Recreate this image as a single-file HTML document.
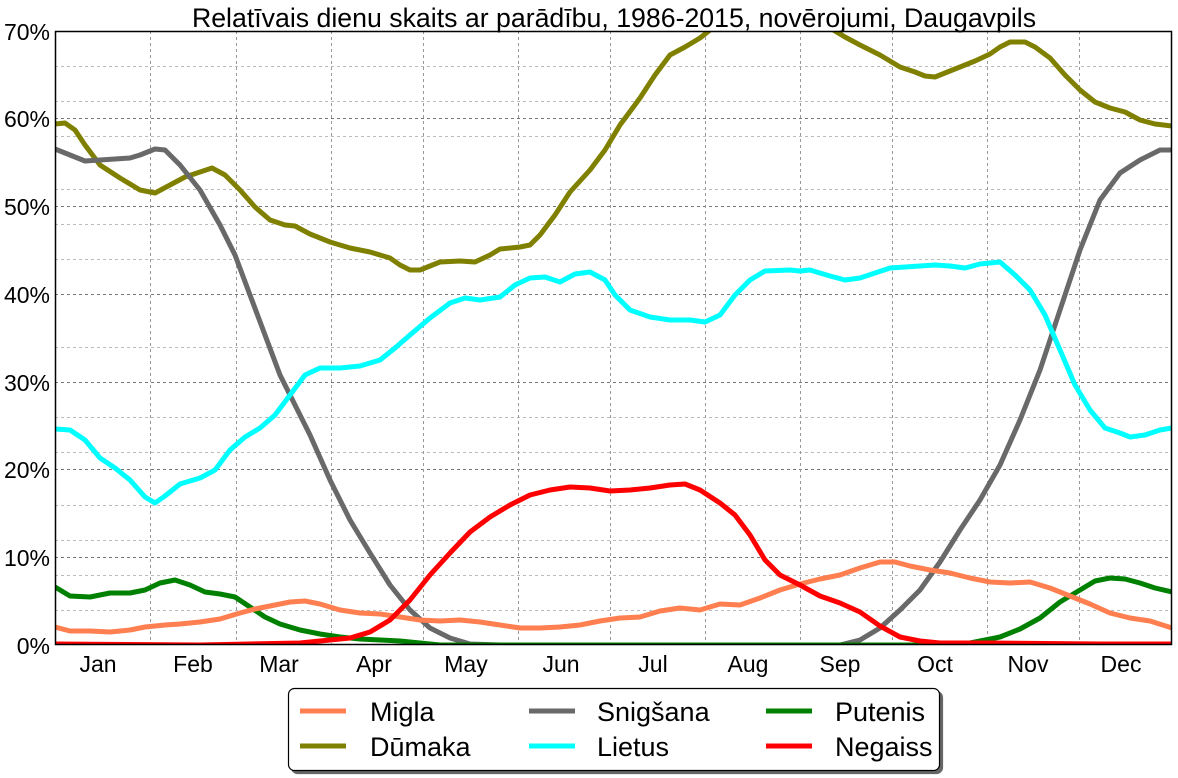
<!DOCTYPE html>
<html><head><meta charset="utf-8"><style>
body{margin:0;background:#fff;}
svg{display:block;font-family:"Liberation Sans",sans-serif;}
</style></head><body>
<svg width="1178" height="778" viewBox="0 0 1178 778">
<defs><clipPath id="c"><rect x="55" y="31" width="1117" height="614"/></clipPath>
<filter id="sh"><feDropShadow dx="3" dy="3" stdDeviation="0" flood-color="#000" flood-opacity="0.6"/></filter></defs>
<rect width="1178" height="778" fill="#fff"/>
<text x="614" y="27" font-size="26.7" text-anchor="middle">Relatīvais dienu skaits ar parādību, 1986-2015, novērojumi, Daugavpils</text>
<g stroke="#999" stroke-width="1" stroke-dasharray="3,3" fill="none">
<path d="M55 610.5H1172M55 575.5H1172M55 540.5H1172M55 505.5H1172M55 452.5H1172M55 417.5H1172M55 382.5H1172M55 347.5H1172M55 294.5H1172M55 259.5H1172M55 224.5H1172M55 189.5H1172M55 136.5H1172M55 101.5H1172M55 66.5H1172" stroke="#bbb"/>
<path d="M55 557.5H1172M55 469.5H1172M55 382.5H1172M55 294.5H1172M55 206.5H1172M55 118.5H1172" stroke="#777"/>
<path d="M150.5 31V645M236.5 31V645M331.5 31V645M423.5 31V645M518.5 31V645M610.5 31V645M705.5 31V645M800.5 31V645M892.5 31V645M987.5 31V645M1079.5 31V645"/>
</g>
<g clip-path="url(#c)" fill="none" stroke-width="5" stroke-linejoin="round" stroke-linecap="round">
<polyline stroke="#808000" points="55,124 65,123 75,130 85,145 100,165 120,178 140,190 155,193 170,185 185,177 200,172 212,168 225,175 240,190 255,207 270,220 285,225 295,226 310,234 330,242 350,248 370,252 390,258 400,265 410,270 420,270 430,266 440,262 460,261 475,262 490,255 500,249 520,247 530,245 540,235 555,215 570,192 590,170 605,150 620,125 640,98 655,75 670,55 685,47 700,38 720,22 735,10 750,0 780,-20 810,-5 830,28 845,37 860,45 880,55 900,67 915,72 925,76 935,77 945,73 960,67 975,61 990,54 1000,47 1010,42 1025,42 1035,47 1050,58 1065,75 1080,90 1095,102 1110,108 1125,112 1140,120 1155,124 1172,126"/>
<polyline stroke="#696969" points="55,149 70,155 85,161 100,160 115,159 130,158 140,155 155,149 165,150 180,165 200,190 220,225 235,255 250,295 265,335 280,375 295,405 310,435 330,480 350,520 370,553 390,585 410,610 430,628 450,638 470,644 500,645 840,645 860,640 880,628 900,610 920,590 940,562 960,530 980,500 1000,465 1020,420 1040,370 1060,310 1080,250 1100,200 1120,173 1140,160 1160,150 1172,150"/>
<polyline stroke="#00FFFF" points="55,429 70,430 85,440 100,458 115,468 130,480 145,497 155,503 165,496 180,484 200,478 215,470 230,450 245,437 260,428 275,415 290,395 305,375 320,368 340,368 360,366 380,360 395,348 410,335 430,318 450,303 465,298 480,300 500,297 515,285 530,278 545,277 560,282 575,274 590,272 605,280 615,295 630,310 650,317 670,320 690,320 705,322 720,315 735,295 750,280 765,271 790,270 800,271 810,270 830,276 845,280 860,278 875,273 890,268 905,267 920,266 935,265 950,266 965,268 980,264 1000,262 1015,275 1030,290 1045,315 1060,350 1075,385 1090,410 1105,428 1120,433 1130,437 1145,435 1160,430 1172,428"/>
<polyline stroke="#008000" points="55,587 70,596 90,597 110,593 130,593 145,590 160,583 175,580 190,585 205,592 220,594 235,597 250,607 265,617 280,624 300,630 320,634 340,637 360,639 380,640 400,641 420,643 440,645 960,645 980,641 1000,637 1020,629 1040,618 1060,602 1080,590 1095,581 1110,578 1125,579 1140,583 1155,588 1172,592"/>
<polyline stroke="#FF7F50" points="55,627 70,631 90,631 110,632 130,630 145,627 165,625 180,624 200,622 220,619 240,613 255,609 270,606 290,602 305,601 320,604 340,610 360,613 380,614 400,617 420,620 440,621 460,620 480,622 500,625 520,628 540,628 560,627 580,625 600,621 620,618 640,617 660,611 680,608 700,610 720,604 740,605 760,598 780,590 800,584 820,579 840,575 860,568 880,562 895,562 910,566 930,570 950,573 970,578 990,582 1010,583 1030,582 1050,588 1070,596 1090,604 1110,613 1130,618 1150,621 1172,628"/>
<polyline stroke="#FF0000" points="55,644 200,645 300,643 330,640 350,638 370,632 390,620 410,600 430,575 450,553 470,532 490,517 510,505 530,495 550,490 570,487 590,488 610,491 630,490 650,488 670,485 685,484 700,490 720,503 735,515 750,535 765,560 780,575 800,585 820,596 840,603 860,612 880,626 900,637 920,641 940,643 990,643 1100,644 1172,644"/>
</g>
<rect x="55.5" y="31.5" width="1116" height="613" fill="none" stroke="#000" stroke-width="1.5"/>
<g font-size="23" text-anchor="end">
<text x="50" y="654">0%</text><text x="50" y="566">10%</text><text x="50" y="478">20%</text><text x="50" y="391">30%</text><text x="50" y="303">40%</text><text x="50" y="215">50%</text><text x="50" y="127">60%</text><text x="50" y="40">70%</text>
</g>
<g font-size="23" text-anchor="middle">
<text x="98" y="672">Jan</text><text x="193" y="672">Feb</text><text x="279" y="672">Mar</text><text x="374" y="672">Apr</text><text x="466" y="672">May</text><text x="561" y="672">Jun</text><text x="653" y="672">Jul</text><text x="748" y="672">Aug</text><text x="840" y="672">Sep</text><text x="935" y="672">Oct</text><text x="1028" y="672">Nov</text><text x="1121" y="672">Dec</text>
</g>
<rect x="288.5" y="688.5" width="651" height="82" rx="6" fill="#fff" stroke="#000" stroke-width="1.2" filter="url(#sh)"/>
<g stroke-width="5" fill="none">
<path d="M300 711H346" stroke="#FF7F50"/><path d="M300 746H346" stroke="#808000"/>
<path d="M529 711H575" stroke="#696969"/><path d="M529 746H575" stroke="#00FFFF"/>
<path d="M766 711H812" stroke="#008000"/><path d="M766 746H812" stroke="#FF0000"/>
</g>
<g font-size="27">
<text x="370" y="721">Migla</text><text x="370" y="756">Dūmaka</text>
<text x="597" y="721">Snigšana</text><text x="597" y="756">Lietus</text>
<text x="835" y="721">Putenis</text><text x="835" y="756">Negaiss</text>
</g>
</svg>
</body></html>
